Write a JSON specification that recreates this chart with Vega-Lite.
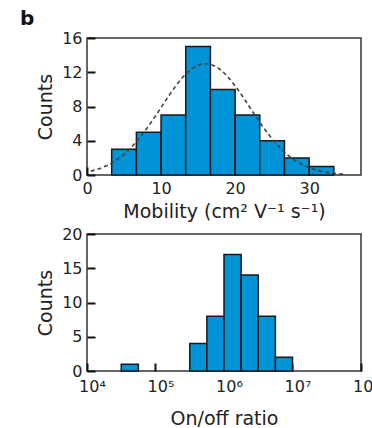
{
  "$schema": "https://vega.github.io/schema/vega-lite/v6.json",
  "padding": {"left": 19, "top": 9, "right": 0, "bottom": 0},
  "background": "white",
  "title": {"text": "b", "anchor": "start", "frame": "bounds", "fontSize": 20, "fontWeight": "bold", "font": "DejaVu Sans", "color": "#111", "offset": 0, "dx": -16},
  "config": {
    "font": "DejaVu Sans",
    "view": {"stroke": "#333", "strokeWidth": 1.5},
    "axis": {
      "domain": false, "grid": false,
      "tickSize": -8, "tickWidth": 2, "tickColor": "#111",
      "labelFontSize": 16, "labelColor": "#222", "labelPadding": 13,
      "labelFlush": false, "labelOverlap": false,
      "titleFontSize": 19, "titleFontWeight": "normal", "titleColor": "#222"
    }
  },
  "spacing": 3,
  "datasets": {
    "mob": [
      {"lo": 3.333, "hi": 6.667, "count": 3},
      {"lo": 6.667, "hi": 10, "count": 5},
      {"lo": 10, "hi": 13.333, "count": 7},
      {"lo": 13.333, "hi": 16.667, "count": 15},
      {"lo": 16.667, "hi": 20, "count": 10},
      {"lo": 20, "hi": 23.333, "count": 7},
      {"lo": 23.333, "hi": 26.667, "count": 4},
      {"lo": 26.667, "hi": 30, "count": 2},
      {"lo": 30, "hi": 33.333, "count": 1}
    ],
    "fit": [
      {"x": 0.5, "y": 0.46}, {"x": 1, "y": 0.57}, {"x": 2, "y": 0.85}, {"x": 3, "y": 1.24},
      {"x": 4, "y": 1.76}, {"x": 5, "y": 2.42}, {"x": 6, "y": 3.24}, {"x": 7, "y": 4.22},
      {"x": 8, "y": 5.34}, {"x": 9, "y": 6.58}, {"x": 10, "y": 7.88}, {"x": 11, "y": 9.19},
      {"x": 12, "y": 10.41}, {"x": 13, "y": 11.47}, {"x": 14, "y": 12.3}, {"x": 15, "y": 12.82},
      {"x": 16, "y": 13}, {"x": 17, "y": 12.82}, {"x": 18, "y": 12.3}, {"x": 19, "y": 11.47},
      {"x": 20, "y": 10.41}, {"x": 21, "y": 9.19}, {"x": 22, "y": 7.88}, {"x": 23, "y": 6.58},
      {"x": 24, "y": 5.34}, {"x": 25, "y": 4.22}, {"x": 26, "y": 3.24}, {"x": 27, "y": 2.42},
      {"x": 28, "y": 1.76}, {"x": 29, "y": 1.24}, {"x": 30, "y": 0.85}, {"x": 31, "y": 0.57},
      {"x": 32, "y": 0.37}, {"x": 33, "y": 0.24}, {"x": 34, "y": 0.14}, {"x": 35, "y": 0.09}
    ],
    "ratio": [
      {"lo": 31623, "hi": 56234, "count": 1},
      {"lo": 316228, "hi": 562341, "count": 4},
      {"lo": 562341, "hi": 1000000, "count": 8},
      {"lo": 1000000, "hi": 1778279, "count": 17},
      {"lo": 1778279, "hi": 3162278, "count": 14},
      {"lo": 3162278, "hi": 5623413, "count": 8},
      {"lo": 5623413, "hi": 10000000, "count": 2}
    ]
  },
  "vconcat": [
    {
      "width": 274, "height": 137,
      "layer": [
        {
          "data": {"name": "mob"},
          "mark": {"type": "rect", "fill": "#0093d6", "stroke": "#1a1a1a", "strokeWidth": 1.5},
          "encoding": {
            "x": {"field": "lo", "type": "quantitative",
                  "scale": {"domain": [0, 37], "nice": false, "zero": false},
                  "axis": {"values": [0, 10, 20, 30], "title": "Mobility (cm² V⁻¹ s⁻¹)", "titlePadding": 6}},
            "x2": {"field": "hi"},
            "y": {"field": "count", "type": "quantitative",
                  "scale": {"domain": [0, 16], "nice": false},
                  "axis": {"values": [0, 4, 8, 12, 16], "title": "Counts", "titlePadding": 6}},
            "y2": {"datum": 0}
          }
        },
        {
          "data": {"name": "fit"},
          "mark": {"type": "line", "stroke": "#444", "strokeWidth": 1.6, "strokeDash": [4, 3], "interpolate": "monotone"},
          "encoding": {
            "x": {"field": "x", "type": "quantitative",
                  "axis": {"values": [0, 10, 20, 30], "title": "Mobility (cm² V⁻¹ s⁻¹)", "titlePadding": 6}},
            "y": {"field": "y", "type": "quantitative",
                  "axis": {"values": [0, 4, 8, 12, 16], "title": "Counts", "titlePadding": 6}}
          }
        }
      ]
    },
    {
      "width": 274, "height": 137,
      "data": {"name": "ratio"},
      "mark": {"type": "rect", "fill": "#0093d6", "stroke": "#1a1a1a", "strokeWidth": 1.5},
      "encoding": {
        "x": {"field": "lo", "type": "quantitative",
              "scale": {"type": "log", "domain": [10000, 100000000], "nice": false},
              "axis": {"values": [10000, 100000, 1000000, 10000000, 100000000], "title": "On/off ratio", "titlePadding": 15, "labelPadding": 15, "labelOffset": 5,
                       "labelExpr": "'10' + ['⁰','¹','²','³','⁴','⁵','⁶','⁷','⁸'][round(log(datum.value)/LN10)]"}},
        "x2": {"field": "hi"},
        "y": {"field": "count", "type": "quantitative",
              "scale": {"domain": [0, 20], "nice": false},
              "axis": {"values": [0, 5, 10, 15, 20], "title": "Counts", "titlePadding": 6}},
        "y2": {"datum": 0}
      }
    }
  ]
}
